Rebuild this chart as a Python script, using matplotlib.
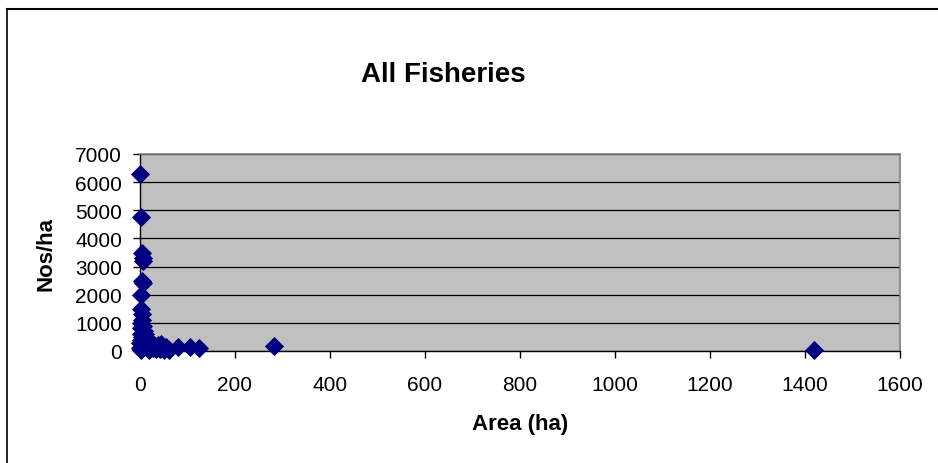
import matplotlib
matplotlib.use("Agg")
import matplotlib.pyplot as plt
from matplotlib.lines import Line2D

plt.rcParams['font.family'] = ['Liberation Sans', 'DejaVu Sans']

title = "All Fisheries"
x_label = "Area (ha)"
y_label = "Nos/ha"

area = [1, 3, 5, 7, 6, 4, 6, 2, 3, 5, 4, 2, 6, 3, 8, 10, 5, 2, 1, 4,
        12, 15, 20, 25, 30, 35, 40, 45, 50, 55, 60, 0.5, 1.5, 2.5, 8, 9,
        14, 18, 22, 28, 33, 38, 42, 48, 80, 105, 125, 282, 1418]
nos_ha = [6300, 4750, 3500, 3300, 3200, 2500, 2400, 2000, 1500, 1300, 1100, 1000,
          900, 800, 700, 600, 500, 400, 300, 250, 200, 150, 100, 250, 200, 150,
          100, 250, 50, 150, 30, 100, 50, 600, 350, 150, 300, 50, 250, 100, 60,
          200, 80, 120, 150, 130, 90, 170, 30]

x_ticks = [0, 200, 400, 600, 800, 1000, 1200, 1400, 1600]
y_ticks = [0, 1000, 2000, 3000, 4000, 5000, 6000, 7000]

fig = plt.figure(figsize=(9.38, 4.64), dpi=100)
fig.patch.set_facecolor('white')

ax = fig.add_axes([140/938, 1 - 352/464, (900-140)/938, (352-155)/464])
ax.set_facecolor('#C0C0C0')
ax.scatter(area, nos_ha, marker='D', s=95, color='#000080', zorder=3, clip_on=False,
           linewidths=0)
ax.set_xlim(0, 1600)
ax.set_ylim(0, 7000)
ax.set_xticks(x_ticks)
ax.set_yticks(y_ticks)
ax.tick_params(axis='both', labelsize=15, direction='out', length=5, width=1, color='black')
ax.tick_params(axis='x', pad=12)
ax.tick_params(axis='y', pad=8)
ax.yaxis.grid(True, color='black', linewidth=0.9)
ax.set_axisbelow(True)
for s in ['top', 'right']:
    ax.spines[s].set_color('#808080')
    ax.spines[s].set_linewidth(1.2)
for s in ['left', 'bottom']:
    ax.spines[s].set_color('black')
    ax.spines[s].set_linewidth(1.0)

fig.text(443/938, 1 - 75/464, title, ha='center', va='center', fontsize=20, fontweight='bold')
fig.text(520/938, 1 - 425/464, x_label, ha='center', va='center', fontsize=16, fontweight='bold')
fig.text(46/938, 1 - 254/464, y_label, ha='center', va='center', fontsize=16, fontweight='bold', rotation=90)

# outer chart-area border
fig.add_artist(Line2D([7/938, 1.0], [1 - 10/464, 1 - 10/464], color='black', linewidth=1.5, transform=fig.transFigure))
fig.add_artist(Line2D([7/938, 7/938], [1 - 10/464, 0.0], color='black', linewidth=1.2, transform=fig.transFigure))

fig.savefig("out.png", dpi=100)
